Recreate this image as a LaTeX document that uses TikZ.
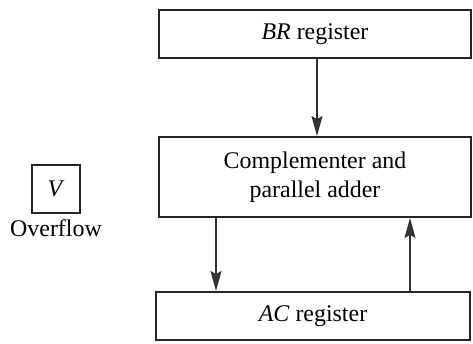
\documentclass[tikz,border=0pt]{standalone}
\usepackage{fontspec}
\setmainfont{Liberation Serif}
\usepackage{tikz}
\usetikzlibrary{arrows.meta, positioning, calc}

\begin{document}
\begin{tikzpicture}[font=\fontsize{13.6}{16.5}\selectfont,
      blk/.style={draw=black!85, line width=1.1pt, inner sep=0pt, align=center, minimum width=6.24cm},
      flag/.style={draw=black!85, line width=1.1pt, inner sep=0pt, minimum size=0.96cm},
      arr/.style={-{Stealth[length=4mm, width=2.2mm, inset=0.6mm]}, line width=0.9pt, draw=black!80}]

      \useasboundingbox (0,0) rectangle (9.46,6.88);

      \node[blk, minimum height=0.96cm] (br) at (6.30,6.20) {\textit{BR} register};
      \node[blk, minimum height=1.6cm] (cmp) at (6.30,3.34) {Complementer and\\parallel adder};
      \node[blk, minimum height=0.96cm, minimum width=6.28cm] (ac) at (6.26,0.56) {\textit{AC} register};

      \node[flag] (v) at (1.12,3.10) {\textit{V}};
      \node[below=0.1cm of v, inner sep=0pt] (ovf) {Overflow};

      \draw[arr] ([xshift=0.04cm]br.south) -- ([xshift=0.04cm]br.south |- cmp.north);
      \draw[arr] ([xshift=-1.98cm]cmp.south) -- ([xshift=-1.98cm]cmp.south |- ac.north);
      \draw[arr] ([xshift=1.90cm]cmp.south |- ac.north) -- ([xshift=1.90cm]cmp.south);
    \end{tikzpicture}
\end{document}
